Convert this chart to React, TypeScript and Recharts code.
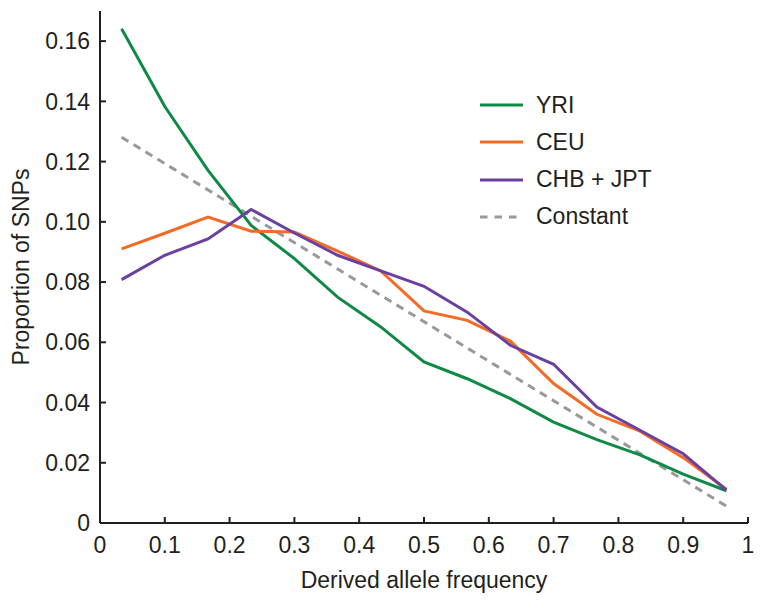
import React from "react";
import { LineChart, Line, XAxis, YAxis, Legend } from "recharts";

const freq = [0.0333, 0.1, 0.1667, 0.2333, 0.3, 0.3667, 0.4333, 0.5, 0.5667, 0.6333, 0.7, 0.7667, 0.8333, 0.9, 0.9667];
const yri = [0.1641, 0.1383, 0.1171, 0.0988, 0.0878, 0.075, 0.0651, 0.0535, 0.0479, 0.0413, 0.0335, 0.0277, 0.0226, 0.0162, 0.0107];
const ceu = [0.091, 0.0962, 0.1016, 0.0969, 0.0966, 0.0903, 0.0837, 0.0704, 0.0673, 0.0604, 0.0463, 0.0361, 0.0305, 0.0217, 0.0112];
const chbJpt = [0.0808, 0.0889, 0.0943, 0.1041, 0.0963, 0.0889, 0.0837, 0.0786, 0.07, 0.059, 0.0527, 0.0385, 0.0308, 0.023, 0.0109];
// constant model: straight line, only its two end values are given
const constant: (number | null)[] = [0.1281, null, null, null, null, null, null, null, null, null, null, null, null, null, 0.0056];

const xTicks = [0, 0.1, 0.2, 0.3, 0.4, 0.5, 0.6, 0.7, 0.8, 0.9, 1];
const yTicks = [0, 0.02, 0.04, 0.06, 0.08, 0.1, 0.12, 0.14, 0.16];

const seriesNames = ["YRI", "CEU", "CHB + JPT", "Constant"];
const seriesColors = ["#0f8a45", "#f36b25", "#6a40a0", "#999999"];

const data = freq.map((f, i) => ({
  freq: f,
  yri: yri[i],
  ceu: ceu[i],
  chb: chbJpt[i],
  constant: constant[i],
}));

const FONT = "'Liberation Sans', Arial, Helvetica, sans-serif";
const INK = "#231f20";
const tickStyle = { fill: INK, fontSize: 23, fontFamily: FONT };

const renderLegend = () => (
  <div style={{ fontFamily: FONT, fontSize: 23, color: INK }}>
    {seriesNames.map((name, i) => (
      <div key={name} style={{ display: "flex", alignItems: "center", height: 37.3, lineHeight: "37.3px" }}>
        <svg width={43} height={6} style={{ display: "block", marginRight: 13 }}>
          <line
            x1={0}
            y1={3}
            x2={43}
            y2={3}
            stroke={seriesColors[i]}
            strokeWidth={3}
            strokeDasharray={i === 3 ? "7.5 7" : undefined}
          />
        </svg>
        <span>{name}</span>
      </div>
    ))}
  </div>
);

export default function App() {
  return (
    <div style={{ position: "absolute", left: 0, top: 0 }}>
      <LineChart width={762} height={604} data={data} margin={{ top: 11, right: 14, bottom: 0, left: 0 }}>
        <XAxis
          dataKey="freq"
          type="number"
          domain={[0, 1]}
          ticks={xTicks}
          height={81}
          tickSize={-6}
          tickMargin={20}
          tickFormatter={(v: number) => String(v)}
          tick={tickStyle}
          axisLine={{ stroke: INK, strokeWidth: 2 }}
          tickLine={{ stroke: INK, strokeWidth: 2 }}
          label={{
            content: (props: any) => {
              const vb = props.viewBox || { x: 100, y: 523, width: 648 };
              return (
                <text x={vb.x + vb.width / 2} y={vb.y + 65} textAnchor="middle" fill={INK} fontSize={23} fontFamily={FONT}>
                  Derived allele frequency
                </text>
              );
            },
          }}
        />
        <YAxis
          type="number"
          domain={[0, 0.17]}
          ticks={yTicks}
          width={100}
          tickSize={-6}
          tickMargin={16}
          tickFormatter={(v: number) => (v === 0 ? "0" : v.toFixed(2))}
          tick={tickStyle}
          axisLine={{ stroke: INK, strokeWidth: 2 }}
          tickLine={{ stroke: INK, strokeWidth: 2 }}
          label={{
            content: (props: any) => {
              const vb = props.viewBox || { x: 0, y: 11, height: 512 };
              const cx = vb.x + 28.5;
              const cy = vb.y + vb.height / 2;
              return (
                <text
                  x={cx}
                  y={cy}
                  transform={`rotate(-90, ${cx}, ${cy})`}
                  textAnchor="middle"
                  fill={INK}
                  fontSize={23}
                  fontFamily={FONT}
                >
                  Proportion of SNPs
                </text>
              );
            },
          }}
        />
        <Legend
          layout="vertical"
          verticalAlign="middle"
          align="center"
          content={renderLegend}
          wrapperStyle={{ position: "absolute", left: 480, top: 86.5, width: 220, height: 150 }}
        />
        <Line dataKey="constant" name="Constant" stroke={seriesColors[3]} strokeWidth={3} strokeDasharray="8 6" dot={false} connectNulls isAnimationActive={false} />
        <Line dataKey="yri" name="YRI" stroke={seriesColors[0]} strokeWidth={3} dot={false} isAnimationActive={false} />
        <Line dataKey="ceu" name="CEU" stroke={seriesColors[1]} strokeWidth={3} dot={false} isAnimationActive={false} />
        <Line dataKey="chb" name="CHB + JPT" stroke={seriesColors[2]} strokeWidth={3} dot={false} isAnimationActive={false} />
      </LineChart>
    </div>
  );
}
